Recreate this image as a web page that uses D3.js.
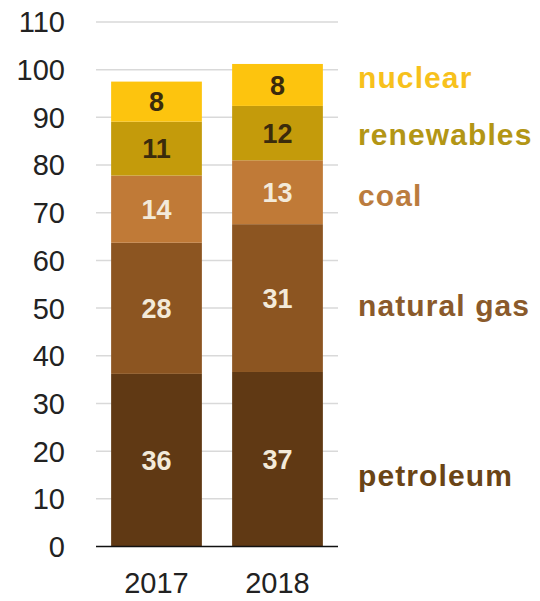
<!DOCTYPE html>
<html><head><meta charset="utf-8">
<script src="https://cdn.jsdelivr.net/npm/d3@7"></script>
<style>body{margin:0;background:#fff}svg{display:block}</style>
</head><body>
<svg id="c" width="540" height="601"></svg>
<script>
const years = ["2017", "2018"];
const sources = ["petroleum", "natural gas", "coal", "renewables", "nuclear"];
const values2017 = [36.2, 27.5, 14.1, 11.3, 8.4];
const values2018 = [36.6, 31.0, 13.4, 11.4, 8.8];
const labels2017 = ["36", "28", "14", "11", "8"];
const labels2018 = ["37", "31", "13", "12", "8"];
const yTicks = [0, 10, 20, 30, 40, 50, 60, 70, 80, 90, 100, 110];

const fills = ["#603914", "#8c5521", "#c07a37", "#c49b0b", "#fdc40e"];
const legendColors = ["#6a4416", "#8a5a2b", "#bb7c3e", "#b39615", "#f7c11c"];
const labelColors = ["#f3ead9", "#f3ead9", "#f3ead9", "#3b2b0c", "#3b2b0c"];
const legendPos = [15.0, 50.6, 73.7, 86.5, 98.4];

const svg = d3.select("#c");
const x = d3.scaleBand().domain(years).range([96, 338]).paddingInner(0.25).paddingOuter(0.125);
const y = d3.scaleLinear().domain([0, 110]).range([546.5, 22]);

// gridlines
svg.append("g").selectAll("line").data(yTicks.filter(d => d > 0)).join("line")
  .attr("x1", 96).attr("x2", 338)
  .attr("y1", d => y(d)).attr("y2", d => y(d))
  .attr("stroke", "#d9d9d9").attr("stroke-width", 1.5);

// y tick labels
svg.append("g").selectAll("text").data(yTicks).join("text")
  .attr("x", 65).attr("y", d => y(d)).attr("dy", "0.36em")
  .attr("text-anchor", "end")
  .attr("font-family", "Liberation Sans, Arial, sans-serif")
  .attr("font-size", 29).attr("fill", "#222")
  .text(d => d);

// stacked data
const rows = years.map((yr, i) => {
  const vals = i === 0 ? values2017 : values2018;
  const r = { year: yr };
  sources.forEach((s, j) => r[s] = vals[j]);
  return r;
});
const stack = d3.stack().keys(sources)(rows);
const labelsBy = [labels2017, labels2018];

const layers = svg.append("g").selectAll("g").data(stack).join("g")
  .attr("fill", (d, i) => fills[i]);
layers.selectAll("rect").data(d => d).join("rect")
  .attr("x", d => x(d.data.year))
  .attr("width", x.bandwidth())
  .attr("y", d => y(d[1]))
  .attr("height", d => y(d[0]) - y(d[1]));

// value labels
stack.forEach((layer, li) => {
  svg.append("g").selectAll("text").data(layer).join("text")
    .attr("x", d => x(d.data.year) + x.bandwidth() / 2)
    .attr("y", d => y((d[0] + d[1]) / 2)).attr("dy", "0.36em")
    .attr("text-anchor", "middle")
    .attr("font-family", "Liberation Sans, Arial, sans-serif")
    .attr("font-weight", "bold").attr("font-size", 27)
    .attr("fill", labelColors[li])
    .text((d, i) => labelsBy[i][li]);
});

// baseline
svg.append("line").attr("x1", 96).attr("x2", 338)
  .attr("y1", y(0)).attr("y2", y(0))
  .attr("stroke", "#111").attr("stroke-width", 1.5);

// x labels
svg.append("g").selectAll("text").data(years).join("text")
  .attr("x", d => x(d) + x.bandwidth() / 2).attr("y", 583).attr("dy", "0.36em")
  .attr("text-anchor", "middle")
  .attr("font-family", "Liberation Sans, Arial, sans-serif")
  .attr("font-size", 29).attr("fill", "#222")
  .text(d => d);

// legend labels
svg.append("g").selectAll("text").data(sources).join("text")
  .attr("x", 358).attr("y", (d, i) => y(legendPos[i])).attr("dy", "0.36em")
  .attr("font-family", "Liberation Sans, Arial, sans-serif")
  .attr("font-weight", "bold").attr("font-size", 30)
  .attr("letter-spacing", 1.1)
  .attr("fill", (d, i) => legendColors[i])
  .text(d => d);
</script>
</body></html>
